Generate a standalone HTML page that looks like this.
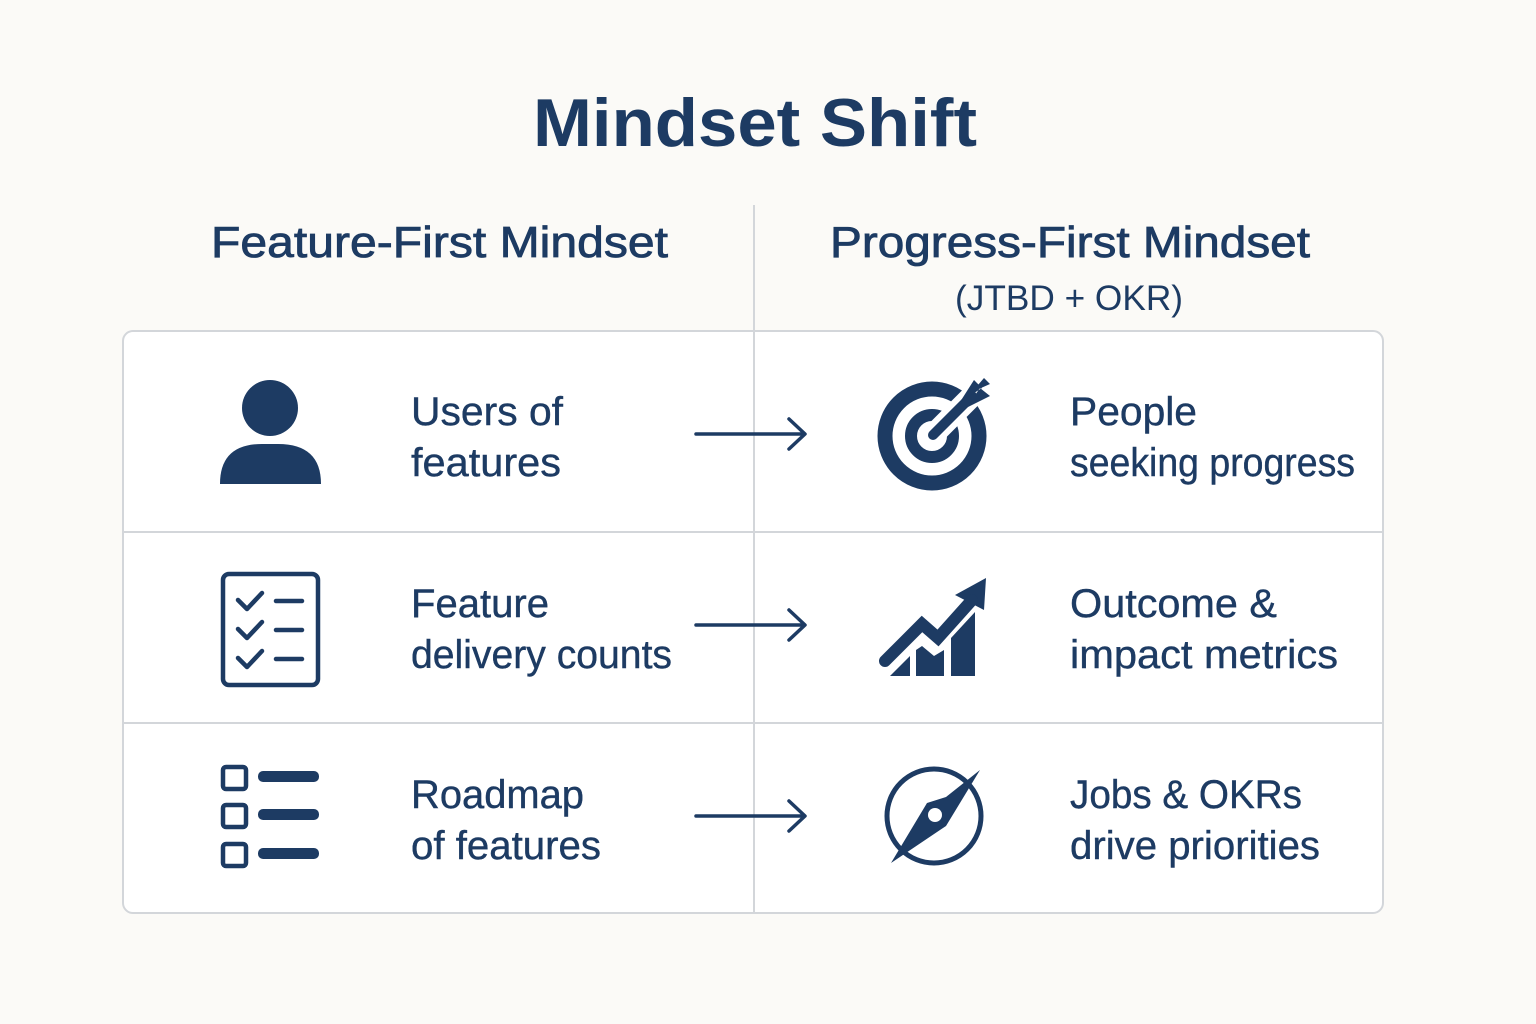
<!DOCTYPE html>
<html><head><meta charset="utf-8"><style>
html,body{margin:0;padding:0;background:#fbfaf7;}
svg{display:block}
text{font-family:"Liberation Sans",sans-serif;fill:#1d3b63}
</style></head><body>
<svg width="1536" height="1024" viewBox="0 0 1536 1024">
<rect width="1536" height="1024" fill="#fbfaf7"/>
<text x="533" y="146" font-size="68" font-weight="bold" textLength="444" lengthAdjust="spacingAndGlyphs">Mindset Shift</text>
<text x="211" y="257" font-size="44" stroke="#1d3b63" stroke-width="0.8" textLength="457" lengthAdjust="spacingAndGlyphs">Feature-First Mindset</text>
<text x="830" y="257" font-size="44" stroke="#1d3b63" stroke-width="0.8" textLength="480" lengthAdjust="spacingAndGlyphs">Progress-First Mindset</text>
<text x="955" y="310" font-size="35" textLength="228" lengthAdjust="spacingAndGlyphs">(JTBD + OKR)</text>
<rect x="123" y="331" width="1260" height="582" rx="10" fill="#ffffff" stroke="#d3d6da" stroke-width="2"/>
<line x1="754" y1="205" x2="754" y2="913" stroke="#d3d6da" stroke-width="2"/>
<line x1="123" y1="532" x2="1383" y2="532" stroke="#d3d6da" stroke-width="2"/>
<line x1="123" y1="723" x2="1383" y2="723" stroke="#d3d6da" stroke-width="2"/>
<g font-size="40" stroke="#1d3b63" stroke-width="0.4">
<text x="411" y="425" textLength="152" lengthAdjust="spacingAndGlyphs">Users of</text>
<text x="411" y="476" textLength="150" lengthAdjust="spacingAndGlyphs">features</text>
<text x="411" y="617" textLength="138" lengthAdjust="spacingAndGlyphs">Feature</text>
<text x="411" y="668" textLength="261" lengthAdjust="spacingAndGlyphs">delivery counts</text>
<text x="411" y="808" textLength="173" lengthAdjust="spacingAndGlyphs">Roadmap</text>
<text x="411" y="859" textLength="190" lengthAdjust="spacingAndGlyphs">of features</text>
<text x="1070" y="425" textLength="127" lengthAdjust="spacingAndGlyphs">People</text>
<text x="1070" y="476" textLength="285" lengthAdjust="spacingAndGlyphs">seeking progress</text>
<text x="1070" y="617" textLength="207" lengthAdjust="spacingAndGlyphs">Outcome &amp;</text>
<text x="1070" y="668" textLength="268" lengthAdjust="spacingAndGlyphs">impact metrics</text>
<text x="1070" y="808" textLength="232" lengthAdjust="spacingAndGlyphs">Jobs &amp; OKRs</text>
<text x="1070" y="859" textLength="250" lengthAdjust="spacingAndGlyphs">drive priorities</text>
</g>
<g stroke="#1d3b63" stroke-width="3.5" fill="none" stroke-linecap="round" stroke-linejoin="round">
<path d="M696 434H804M789 419L805 434L789 449"/>
<path d="M696 625H804M789 610L805 625L789 640"/>
<path d="M696 816H804M789 801L805 816L789 831"/>
</g>
<g fill="#1d3b63">
<circle cx="270" cy="408" r="28"/>
<path d="M220 484 Q220 444 262 444 L278 444 Q321 444 321 484 Z"/>
</g>
<g stroke="#1d3b63" fill="none" stroke-width="4.5" stroke-linecap="round" stroke-linejoin="round">
<rect x="223" y="574" width="95" height="111" rx="6"/>
<path d="M238 600l9 9 15-16M238 629l9 9 15-16M238 658l9 9 15-16"/>
<path d="M276 601h26M276 630h26M276 659h26"/>
</g>
<g stroke="#1d3b63" fill="none" stroke-width="4.5">
<rect x="223" y="767" width="23" height="22" rx="3"/>
<rect x="223" y="805" width="23" height="22" rx="3"/>
<rect x="223" y="844" width="23" height="22" rx="3"/>
</g>
<g fill="#1d3b63">
<rect x="258" y="771" width="61" height="11" rx="5"/>
<rect x="258" y="809" width="61" height="11" rx="5"/>
<rect x="258" y="848" width="61" height="11" rx="5"/>
</g>
<g>
<circle cx="932" cy="436" r="47" stroke="#1d3b63" stroke-width="15" fill="none"/>
<circle cx="932" cy="436" r="21" stroke="#1d3b63" stroke-width="12" fill="none"/>
<line x1="934" y1="434" x2="975" y2="393" stroke="#fff" stroke-width="22"/>
<line x1="933" y1="435" x2="972" y2="396" stroke="#1d3b63" stroke-width="10" stroke-linecap="round"/>
<path d="M960 402 L974 380 L982 388 Z M966 408 L990 396 L980 388 Z M972 392 L984 378 L990 384 Z" fill="#1d3b63"/>
</g>
<g fill="#1d3b63">
<path d="M890 676 L910 656 L910 676 Z"/>
<path d="M916 676 L916 650 L922 646 L934 656 L944 650 L944 676 Z"/>
<path d="M951 676 L951 638 L975 612 L975 676 Z"/>
<path d="M955 595 L986 578 L984 610 Z"/>
</g>
<polyline points="885,661 922,624 938,638 972,600" stroke="#1d3b63" stroke-width="12" fill="none" stroke-linecap="round" stroke-linejoin="miter"/>
<g>
<circle cx="934" cy="816" r="47" stroke="#1d3b63" stroke-width="5" fill="none"/>
<path d="M891 863 L927 803 L946 797 L980 770 L946 826 L940 830 Z" fill="#1d3b63"/>
<circle cx="935" cy="815" r="7" fill="#fff"/>
</g>
</svg>
</body></html>
